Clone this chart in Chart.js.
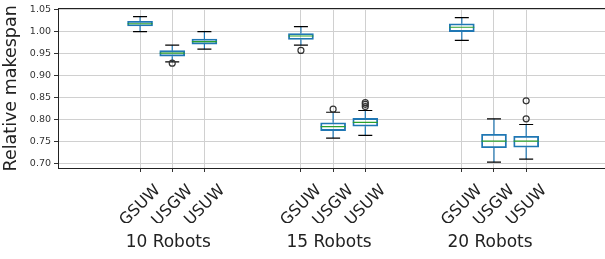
<!DOCTYPE html>
<html>
<head>
<meta charset="utf-8">
<script src="https://cdn.jsdelivr.net/npm/chart.js@4/dist/chart.umd.min.js"></script>
<style>
  html, body { margin: 0; padding: 0; background: #fff; }
  #c { display: block; }
</style>
</head>
<body>
<canvas id="c" width="605" height="259"></canvas>
<script>
// ---- data ----
const boxLabels = ['GSUW', 'USGW', 'USUW', 'GSUW', 'USGW', 'USUW', 'GSUW', 'USGW', 'USUW'];
const boxPositions = [1, 2, 3, 6, 7, 8, 11, 12, 13];
const groupLabels = ['10 Robots', '15 Robots', '20 Robots'];
const groupPositions = [2, 7, 12];
const whiskerLow  = [1.000, 0.931, 0.960, 0.969, 0.757, 0.763, 0.980, 0.702, 0.709];
const q1          = [1.013, 0.944, 0.9715, 0.982, 0.774, 0.784, 1.000, 0.735, 0.736];
const median      = [1.018, 0.951, 0.977, 0.990, 0.783, 0.793, 1.010, 0.750, 0.750];
const q3          = [1.0235, 0.9566, 0.983, 0.9957, 0.792, 0.802, 1.018, 0.7656, 0.761];
const whiskerHigh = [1.034, 0.969, 1.000, 1.0115, 0.816, 0.820, 1.032, 0.801, 0.788];
const fliers = [[], [0.928], [], [0.957], [0.823], [0.838, 0.834, 0.829], [], [], [0.842, 0.801]];
const yTicks = [0.70, 0.75, 0.80, 0.85, 0.90, 0.95, 1.00, 1.05];
const yTitle = 'Relative makespan';

// ---- derived datasets ----
const boxData = boxPositions.map((p, i) => ({ x: p, y: [q1[i], q3[i]] }));
const medianData = boxPositions.map((p, i) => ({ x: p, y: median[i] }));
const capData = [];
boxPositions.forEach((p, i) => { capData.push({ x: p, y: whiskerLow[i] }); capData.push({ x: p, y: whiskerHigh[i] }); });
const whiskerData = [];
boxPositions.forEach((p, i) => {
  whiskerData.push({ x: p, y: whiskerLow[i] }, { x: p, y: q1[i] }, { x: p, y: null });
  whiskerData.push({ x: p, y: q3[i] }, { x: p, y: whiskerHigh[i] }, { x: p, y: null });
});
const flierData = [];
boxPositions.forEach((p, i) => fliers[i].forEach(v => flierData.push({ x: p, y: v })));

const FONT = 'DejaVu Sans';
const X_MIN = -1.55, X_MAX = 15.45;
const Y_MIN = 0.6887, Y_MAX = 1.0523;
const GRID = '#d0d0d0';

new Chart(document.getElementById('c'), {
  type: 'bar',
  data: {
    datasets: [
      { type: 'line', data: whiskerData, borderColor: '#1f77b4', borderWidth: 1.2, pointRadius: 0, spanGaps: false, order: 4 },
      { type: 'bar', data: boxData, borderColor: '#1f77b4', backgroundColor: 'rgba(0,0,0,0)', borderWidth: 1.2, borderSkipped: false, barThickness: 25, order: 3 },
      { type: 'scatter', data: medianData, pointStyle: 'line', radius: 12.5, borderColor: '#2ca02c', borderWidth: 1.2, order: 2 },
      { type: 'scatter', data: capData, pointStyle: 'line', radius: 7, borderColor: '#000', borderWidth: 1.2, order: 1 },
      { type: 'scatter', data: flierData, pointStyle: 'circle', radius: 3, borderColor: '#333', backgroundColor: 'rgba(0,0,0,0)', borderWidth: 1.2, order: 0 }
    ]
  },
  options: {
    responsive: false,
    animation: false,
    devicePixelRatio: 1,
    layout: { autoPadding: false, padding: { top: 7, right: 0, left: 0, bottom: 0 } },
    plugins: { legend: { display: false }, tooltip: { enabled: false } },
    scales: {
      x: {
        type: 'linear', position: 'bottom', min: X_MIN, max: X_MAX, offset: false, weight: 0,
        afterBuildTicks: s => { s.ticks = boxPositions.map(v => ({ value: v })); },
        afterFit: s => { s.height = 55; s.paddingLeft = 0; s.paddingRight = 0; },
        grid: { offset: false, color: GRID, lineWidth: 1, tickColor: '#333', tickLength: 4, drawTicks: true },
        border: { display: true, color: '#222', width: 1 },
        ticks: {
          autoSkip: false, minRotation: 45, maxRotation: 45, padding: 9, labelOffset: 18,
          color: '#222', font: { family: FONT, size: 16 },
          callback: (v, i) => boxLabels[i]
        }
      },
      x2: {
        type: 'linear', position: 'bottom', min: X_MIN, max: X_MAX, offset: false, weight: 1,
        afterBuildTicks: s => { s.ticks = groupPositions.map(v => ({ value: v })); },
        afterFit: s => { s.height = 36; s.paddingLeft = 0; s.paddingRight = 0; },
        grid: { display: false, drawTicks: false, offset: false },
        border: { display: false },
        ticks: {
          autoSkip: false, minRotation: 0, maxRotation: 0, padding: 9, labelOffset: -4,
          color: '#222', font: { family: FONT, size: 17 },
          callback: (v, i) => groupLabels[i]
        }
      },
      xTop: {
        type: 'linear', position: 'top', min: X_MIN, max: X_MAX,
        afterBuildTicks: s => { s.ticks = []; },
        afterFit: s => { s.height = 0; s.paddingLeft = 0; s.paddingRight = 0; },
        grid: { display: false, drawTicks: false, offset: false },
        border: { display: true, color: '#222', width: 1 },
        ticks: { display: false }
      },
      y: {
        type: 'linear', position: 'left', min: Y_MIN, max: Y_MAX,
        afterBuildTicks: s => { s.ticks = yTicks.map(v => ({ value: v })); },
        afterFit: s => { s.width = 58; },
        grid: { color: GRID, lineWidth: 1, tickColor: '#333', tickLength: 4 },
        border: { display: true, color: '#222', width: 1 },
        ticks: { padding: 3, color: '#333', font: { family: FONT, size: 9.5 }, callback: v => Number(v).toFixed(2) },
        title: { display: true, text: yTitle, color: '#222', font: { family: FONT, size: 17.5 }, padding: { top: 1, bottom: 0 } }
      }
    }
  }
});
</script>
</body>
</html>
